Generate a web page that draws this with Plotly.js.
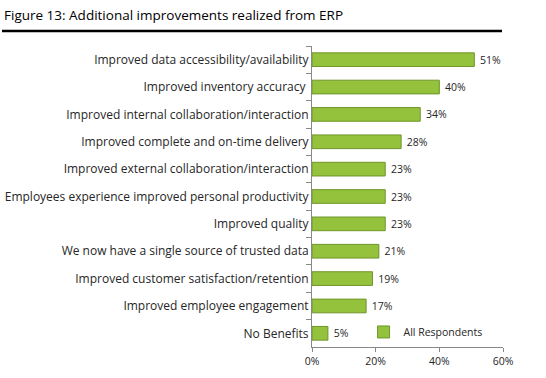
<!DOCTYPE html>
<html><head><meta charset="utf-8">
<script src="https://cdn.plot.ly/plotly-3.0.1.min.js"></script>
<style>body{margin:0;background:#fff}#c{width:546px;height:378px}</style>
</head><body><div id="c"></div>
<script>
const categories = [
  "Improved data accessibility/availability",
  "Improved inventory accuracy ",
  "Improved internal collaboration/interaction",
  "Improved complete and on-time delivery",
  "Improved external collaboration/interaction",
  "Employees experience improved personal productivity",
  "Improved quality",
  "We now have a single source of trusted data",
  "Improved customer satisfaction/retention",
  "Improved employee engagement",
  "No Benefits"
];
const values = [51, 40, 34, 28, 23, 23, 23, 21, 19, 17, 5];
const labels = values.map(v => " " + v + "%");
const xTicks = [0, 20, 40, 60];
const xTickText = ["0%", "20%", "40%", "60%"];

const font = "Open Sans, Liberation Sans, Arial, sans-serif";
Plotly.newPlot("c", [{
  type: "bar", orientation: "h", name: "All Respondents",
  y: categories, x: values, text: labels, textposition: "outside",
  constraintext: "none",
  textfont: {size: 10.5, color: "#262626", family: font},
  cliponaxis: false,
  marker: {color: "#95c23d", line: {color: "#6f952a", width: 1}},
  width: 0.5
}], {
  width: 546, height: 378,
  margin: {l: 312, r: 43, t: 46, b: 31},
  paper_bgcolor: "#fff", plot_bgcolor: "#fff",
  font: {family: font, color: "#262626"},
  title: {text: "Figure 13: Additional improvements realized from ERP",
    x: 4/546, xref: "container", xanchor: "left",
    y: 1 - 15/378, yref: "container", yanchor: "middle",
    font: {size: 13.5, family: font, color: "#000"}},
  showlegend: true,
  legend: {x: 0.27, xanchor: "left", y: 0.05, yanchor: "middle",
    bgcolor: "rgba(0,0,0,0)", font: {size: 10.5, family: font, color: "#262626"},
    itemwidth: 30},
  xaxis: {range: [0, 60], tickvals: xTicks, ticktext: xTickText,
    showgrid: false, zeroline: false, showline: true, linecolor: "#888",
    ticks: "outside", ticklen: 4, tickcolor: "#888",
    tickfont: {size: 10.5, family: font, color: "#262626"}, fixedrange: true},
  yaxis: {type: "category", autorange: "reversed", showgrid: false,
    showline: true, linecolor: "#888", ticks: "outside", tickson: "boundaries",
    ticklen: 5, tickcolor: "#888",
    tickfont: {size: 12, family: font, color: "#262626"}, fixedrange: true},
  shapes: [{type: "line", xref: "paper", yref: "paper",
    x0: (2-312)/191, x1: (502-312)/191,
    y0: (347-31)/301, y1: (347-31)/301,
    line: {color: "#000", width: 2.5}}]
}, {displayModeBar: false, staticPlot: true});
</script></body></html>
